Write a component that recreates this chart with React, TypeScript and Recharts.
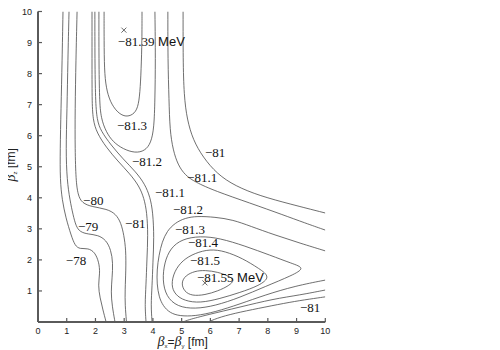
import { ComposedChart, Line, Scatter, XAxis, YAxis, Label } from 'recharts'

type Pt = { x: number; y: number }
const toPts = (a: number[][]): Pt[] => a.map(([x, y]) => ({ x, y }))

// contour lines (x = beta_x = beta_y, y = beta_z, fm)
const c78 = toPts([[0.87, 10], [0.84, 8.44], [0.8, 6.83], [0.77, 5.54], [0.77, 4.57], [0.84, 3.93], [0.97, 3.35], [1.15, 2.8], [1.29, 2.45], [1.46, 2.35], [1.74, 2.38], [1.98, 2.25], [2.12, 1.93], [2.16, 1.58], [2.09, 1.19], [2.16, 0.77], [2.26, 0.39], [2.37, 0]])
const c79 = toPts([[1.08, 10], [1.04, 8.44], [1.01, 6.83], [0.97, 5.54], [1.01, 4.57], [1.11, 3.93], [1.22, 3.45], [1.32, 3.09], [1.46, 2.9], [1.74, 2.83], [2.09, 2.8], [2.37, 2.64], [2.54, 2.32], [2.61, 1.9], [2.58, 1.42], [2.54, 0.97], [2.58, 0.52], [2.68, 0]])
const c80 = toPts([[1.36, 10], [1.32, 8.44], [1.29, 6.83], [1.29, 5.54], [1.32, 4.57], [1.39, 4.09], [1.53, 3.83], [1.88, 3.71], [2.4, 3.64], [2.71, 3.48], [2.89, 3.19], [2.99, 2.8], [3.06, 2.32], [3.06, 1.67], [3.03, 1.03], [3.03, 0.55], [3.08, 0]])
const c81Left = toPts([[1.88, 10], [1.88, 8.44], [1.88, 7.15], [1.91, 6.51], [2.05, 6.09], [2.37, 5.63], [2.78, 5.18], [3.2, 4.77], [3.52, 4.38], [3.69, 3.99], [3.79, 3.54], [3.83, 2.8], [3.79, 2.0], [3.76, 1.19], [3.72, 0.55], [3.76, 0]])
const c811Left = toPts([[1.98, 10], [1.98, 8.44], [2.0, 7.15], [2.05, 6.51], [2.19, 6.15], [2.54, 5.7], [2.96, 5.25], [3.41, 4.83], [3.72, 4.44], [3.9, 4.03], [4.0, 3.54], [4.04, 2.71], [4.0, 1.93], [3.97, 1.13], [3.93, 0.55], [3.97, 0]])
const c812Top = toPts([[2.12, 10], [2.12, 8.44], [2.14, 7.15], [2.19, 6.57], [2.37, 6.12], [2.61, 5.8], [2.96, 5.57], [3.38, 5.44], [3.72, 5.51], [3.93, 5.76], [4.04, 6.25], [4.07, 7.15], [4.09, 8.44], [4.07, 10]])
const c813Top = toPts([[2.3, 10], [2.3, 9.08], [2.31, 8.12], [2.37, 7.54], [2.51, 7.09], [2.75, 6.76], [3.03, 6.6], [3.31, 6.67], [3.48, 6.89], [3.55, 7.38], [3.59, 8.12], [3.62, 9.08], [3.62, 10]])
const c811Right = toPts([[4.52, 10], [4.52, 8.44], [4.56, 7.15], [4.59, 6.18], [4.7, 5.54], [4.87, 5.06], [5.12, 4.73], [5.46, 4.51], [6.16, 4.22], [7.38, 3.83], [8.53, 3.45], [9.29, 3.19], [10, 2.96]])
const c81Right = toPts([[5.05, 10], [5.05, 8.44], [5.08, 7.31], [5.19, 6.51], [5.4, 5.86], [5.74, 5.31], [6.23, 4.77], [6.86, 4.38], [7.73, 4.06], [8.77, 3.8], [10, 3.51]])
const c812Low = toPts([[10, 2.29], [9.12, 2.54], [8.25, 2.8], [7.38, 3.09], [6.79, 3.29], [6.16, 3.38], [5.53, 3.41], [5.12, 3.35], [4.77, 3.19], [4.49, 2.93], [4.32, 2.58], [4.21, 2.16], [4.14, 1.67], [4.14, 1.22], [4.21, 0.81], [4.35, 0.52], [4.59, 0.29], [4.94, 0.19], [5.46, 0.19], [6.16, 0.32], [7.03, 0.58], [7.9, 0.87], [8.95, 1.16], [10, 1.35]])
const c811Low = toPts([[10, 1.03], [9.12, 0.87], [8.18, 0.74], [7.03, 0.48], [5.88, 0.23], [5.19, 0.06], [5.05, 0]])
const c81Low = toPts([[10, 0.81], [9.47, 0.74], [8.77, 0.64], [7.9, 0.48], [7.03, 0.32], [6.33, 0.16], [5.92, 0]])
// closed loops around the lower minimum
const loop813 = toPts([[4.33, 1.35], [4.4, 1.92], [4.61, 2.38], [5.01, 2.67], [5.64, 2.77], [6.33, 2.7], [7.2, 2.45], [8.08, 2.15], [8.85, 1.88], [9.3, 1.74], [8.85, 1.5], [7.9, 1.14], [7.03, 0.79], [6.16, 0.52], [5.46, 0.42], [4.85, 0.49], [4.46, 0.82]])
const loop814 = toPts([[4.63, 1.19], [4.74, 1.63], [5.03, 1.99], [5.46, 2.22], [5.99, 2.35], [6.51, 2.28], [7.12, 2.05], [7.7, 1.72], [8.1, 1.45], [7.7, 1.17], [7.03, 0.95], [6.33, 0.75], [5.64, 0.61], [5.1, 0.68], [4.77, 0.88]])
const loop815 = toPts([[4.98, 1.26], [5.13, 1.5], [5.46, 1.64], [5.81, 1.67], [6.27, 1.61], [6.65, 1.47], [6.85, 1.35], [6.65, 1.17], [6.27, 1.0], [5.81, 0.87], [5.36, 0.84], [5.09, 0.98]])

const openLines = [c78, c79, c80, c81Left, c811Left, c812Top, c813Top, c811Right, c81Right, c812Low, c811Low, c81Low]
const closedLines = [loop813, loop814, loop815]

const minima = [{ x: 2.99, y: 9.4 }, { x: 5.81, y: 1.26 }]

const contourLabels = [
  { x: 2.78, y: 8.9, text: '−81.39', unit: 'MeV' },
  { x: 2.75, y: 6.17, text: '−81.3' },
  { x: 3.27, y: 5.04, text: '−81.2' },
  { x: 5.81, y: 5.3, text: '−81' },
  { x: 5.19, y: 4.52, text: '−81.1' },
  { x: 4.07, y: 4.04, text: '−81.1' },
  { x: 1.57, y: 3.78, text: '−80' },
  { x: 1.39, y: 2.92, text: '−79' },
  { x: 0.97, y: 1.82, text: '−78' },
  { x: 3.03, y: 3.04, text: '−81' },
  { x: 4.7, y: 3.49, text: '−81.2' },
  { x: 4.77, y: 2.85, text: '−81.3' },
  { x: 5.22, y: 2.4, text: '−81.4' },
  { x: 5.29, y: 1.82, text: '−81.5' },
  { x: 5.53, y: 1.3, text: '−81.55', unit: 'MeV' },
  { x: 9.12, y: 0.31, text: '−81' },
]

const xTicks = [0, 1, 2, 3, 4, 5, 6, 7, 8, 9, 10]
const yTicks = [1, 2, 3, 4, 5, 6, 7, 8, 9, 10]

const LINE = '#4a4a4a'
const AXIS = '#5a5a5a'
const SANS = "'Liberation Sans', Arial, Helvetica, sans-serif"
const SERIF = "'Liberation Serif', 'Times New Roman', Times, serif"

const XTick = ({ x, y, payload }: any) => (
  <g>
    <line x1={x} x2={x} y1={y} y2={y - 4} stroke={AXIS} strokeWidth={1.2} />
    <text x={x} y={y + 11.5} textAnchor="middle" style={{ fontSize: 9, fontFamily: SANS }} fill="#222">
      {payload.value}
    </text>
  </g>
)

const YTick = ({ x, y, payload }: any) => (
  <g>
    <line x1={x} x2={x + 4} y1={y} y2={y} stroke={AXIS} strokeWidth={1.2} />
    <text x={x - 6} y={y + 3.2} textAnchor="end" style={{ fontSize: 9, fontFamily: SANS }} fill="#222">
      {payload.value}
    </text>
  </g>
)

const XTitle = ({ viewBox }: any) => (
  <text x={viewBox.x + viewBox.width / 2 + 1} y={viewBox.y + 24} textAnchor="middle" fill="#222">
    <tspan style={{ fontFamily: SERIF, fontStyle: 'italic', fontSize: 14 }}>β</tspan>
    <tspan style={{ fontFamily: SANS, fontSize: 6 }} dy={2}>x</tspan>
    <tspan style={{ fontFamily: SANS, fontSize: 12 }} dy={-2}>=</tspan>
    <tspan style={{ fontFamily: SERIF, fontStyle: 'italic', fontSize: 14 }}>β</tspan>
    <tspan style={{ fontFamily: SANS, fontSize: 6 }} dy={2}>y</tspan>
    <tspan style={{ fontFamily: SANS, fontSize: 12 }} dy={-2}> [fm]</tspan>
  </text>
)

const YTitle = ({ viewBox }: any) => {
  const cx = viewBox.x + 15
  const cy = viewBox.y + viewBox.height / 2 - 2
  return (
    <text x={cx} y={cy} textAnchor="middle" fill="#222" transform={`rotate(-90, ${cx}, ${cy})`}>
      <tspan style={{ fontFamily: SERIF, fontStyle: 'italic', fontSize: 14 }}>β</tspan>
      <tspan style={{ fontFamily: SANS, fontSize: 6 }} dy={2}>z</tspan>
      <tspan style={{ fontFamily: SANS, fontSize: 12 }} dy={-2}> [fm]</tspan>
    </text>
  )
}

const ContourLabel = ({ cx, cy, payload }: any) => (
  <text x={cx} y={cy} style={{ fontSize: 13, fontFamily: SERIF }} fill="#111">
    {payload.text}
    {payload.unit ? <tspan style={{ fontFamily: SANS }}> {payload.unit}</tspan> : null}
  </text>
)

const Cross = ({ cx, cy }: any) => (
  <g stroke="#444" strokeWidth={0.8}>
    <line x1={cx - 2.5} y1={cy - 2.5} x2={cx + 2.5} y2={cy + 2.5} />
    <line x1={cx - 2.5} y1={cy + 2.5} x2={cx + 2.5} y2={cy - 2.5} />
  </g>
)

export default function App() {
  return (
    <div style={{ marginLeft: -8 }}>
      <ComposedChart width={488} height={342} margin={{ top: 3.5, right: 162.7, bottom: 0, left: 0 }}>
        <XAxis
          type="number"
          dataKey="x"
          domain={[0, 10]}
          ticks={xTicks}
          interval={0}
          allowDataOverflow
          height={28}
          tickSize={0}
          tickMargin={0}
          tickLine={false}
          tick={<XTick />}
          axisLine={{ stroke: AXIS, strokeWidth: 2 }}
        >
          <Label content={<XTitle />} />
        </XAxis>
        <YAxis
          type="number"
          dataKey="y"
          domain={[0, 10]}
          ticks={yTicks}
          interval={0}
          allowDataOverflow
          width={38}
          tickSize={0}
          tickMargin={0}
          tickLine={false}
          tick={<YTick />}
          axisLine={{ stroke: AXIS, strokeWidth: 2 }}
        >
          <Label content={<YTitle />} />
        </YAxis>
        {openLines.map((d, i) => (
          <Line
            key={'o' + i}
            data={d}
            dataKey="y"
            type="basis"
            dot={false}
            activeDot={false}
            stroke={LINE}
            strokeWidth={0.8}
            isAnimationActive={false}
          />
        ))}
        {closedLines.map((d, i) => (
          <Line
            key={'c' + i}
            data={d}
            dataKey="y"
            type="basisClosed"
            dot={false}
            activeDot={false}
            stroke={LINE}
            strokeWidth={0.8}
            isAnimationActive={false}
          />
        ))}
        <Scatter data={minima} shape={(p: any) => <Cross {...p} />} isAnimationActive={false} />
        <Scatter data={contourLabels} shape={(p: any) => <ContourLabel {...p} />} isAnimationActive={false} />
      </ComposedChart>
    </div>
  )
}
